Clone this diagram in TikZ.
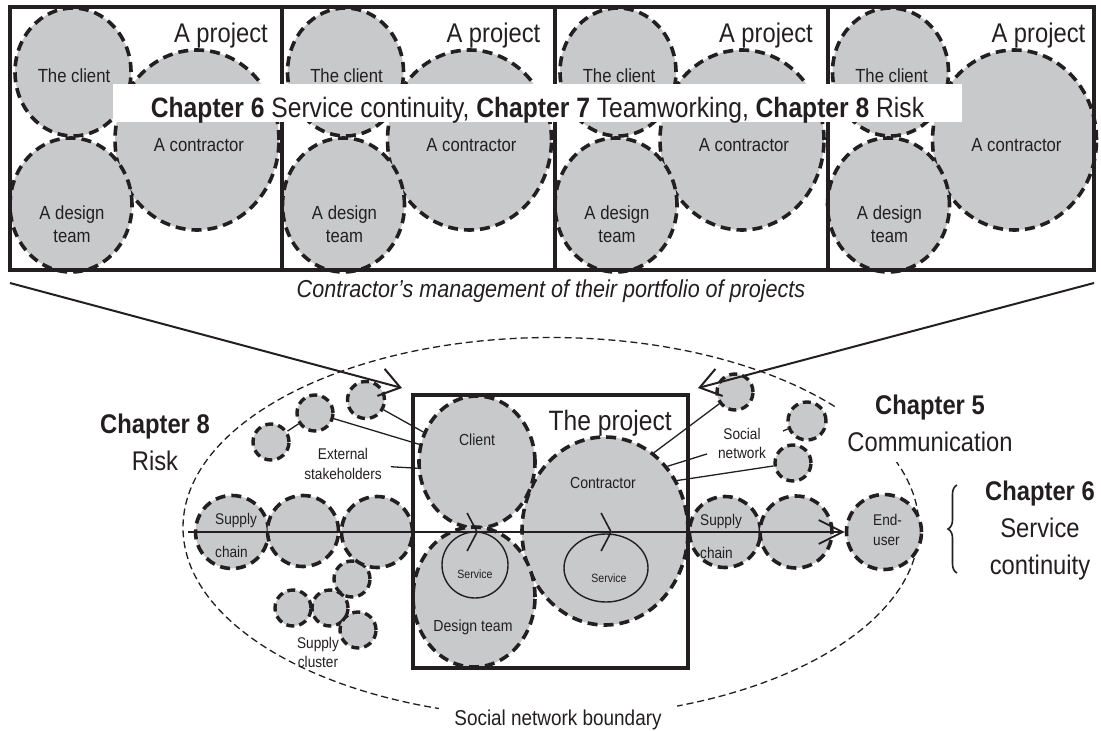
\documentclass[tikz,border=0pt]{standalone}
\usepackage{fontspec}
\setmainfont{Liberation Sans}[FakeStretch=0.88]
\usetikzlibrary{shapes.geometric, arrows.meta, decorations.pathreplacing}

\definecolor{blobfill}{RGB}{200,201,203}
\definecolor{ink}{RGB}{35,31,32}

\newcommand{\setfs}[2]{\fontsize{#1}{#2}\selectfont}

\begin{document}
\begin{tikzpicture}[x=1pt, y=-1pt,
  blob/.style={ellipse, fill=blobfill, draw=ink, line width=3.6pt,
    dash pattern=on 10pt off 6pt, inner sep=0pt},
  smallblob/.style={blob, line width=3.4pt, dash pattern=on 8pt off 5pt},
  txt/.style={text=ink, align=center, inner sep=0pt},
  link/.style={draw=ink, line width=1.3pt},
  frame/.style={draw=ink, line width=4.5pt},
  svcring/.style={ellipse, draw=ink, line width=1.4pt, inner sep=0pt},
  flow/.style={draw=ink, line width=1.8pt},
  bigarrow/.style={draw=ink, line width=2pt,
    -{Straight Barb[length=20pt,width=28pt,line width=2pt]}},
  chaplabel/.style={txt, font=\setfs{27}{37}},
]
% canvas
\fill[white] (0,0) rectangle (1101,731);
\useasboundingbox (0,0) rectangle (1101,731);

% ---------- portfolio of four projects ----------
\foreach \i/\o in {1/0,2/272.5,3/545,4/817.5}{
  \node[blob, minimum width=164, minimum height=180] (ctr\i) at (197+\o,140) {};
  \node[blob, minimum width=116, minimum height=128] (cli\i) at (73+\o,72) {};
  \node[blob, minimum width=122, minimum height=134] (dsg\i) at (71+\o,205) {};
  \node[txt, font=\setfs{27}{30}, anchor=base east] (ttl\i) at (268+\o,42) {A project};
  \node[txt, font=\setfs{19}{23}] (clit\i) at (74+\o,76) {The client};
  \node[txt, font=\setfs{19}{23}] (ctrt\i) at (199+\o,145) {A contractor};
  \node[txt, font=\setfs{19}{23}] (dsgt\i) at (72+\o,224) {A design\\team};
}
\draw[frame] (10,7) rectangle (1094,270);
\draw[frame] (282,7) -- (282,270);
\draw[frame] (555,7) -- (555,270);
\draw[frame] (828,7) -- (828,270);

% chapter banner across the portfolio
\node[fill=white, minimum width=849, minimum height=38, inner sep=0pt] (banner) at (537.5,103) {};
\node[txt, font=\setfs{28}{32}, anchor=base] (bannertext) at (537.5,117)
  {\textbf{Chapter 6} Service continuity, \textbf{Chapter 7} Teamworking, \textbf{Chapter 8} Risk};

\node[txt, font=\setfs{24.5}{28}\itshape] (caption) at (551,291)
  {Contractor’s management of their portfolio of projects};

% ---------- the project within its social network ----------
\node[ellipse, draw=ink, line width=1.3pt, dash pattern=on 7pt off 4pt,
  minimum width=736, minimum height=380, inner sep=0pt] (bnd) at (551,527.5) {};

% external stakeholders
\node[smallblob, minimum size=37] (s1) at (366,400) {};
\node[smallblob, minimum size=36] (s2) at (315,413) {};
\node[smallblob, minimum size=36] (s3) at (271,442) {};

% supply cluster
\node[smallblob, minimum size=36] (c1) at (352,579) {};
\node[smallblob, minimum size=36] (c2) at (293,608) {};
\node[smallblob, minimum size=36] (c3) at (330,608) {};
\node[smallblob, minimum size=36] (c4) at (358,630) {};

% social network
\node[smallblob, minimum size=36] (r1) at (735,392) {};
\node[smallblob, minimum size=38] (r2) at (807,421) {};
\node[smallblob, minimum size=36] (r3) at (793,463) {};

% supply chains and end-user
\node[blob, minimum size=73] (scA) at (232,532) {};
\node[blob, minimum size=71] (scB) at (303,531) {};
\node[blob, minimum size=71] (scC) at (377,532) {};
\node[blob, minimum size=71] (scD) at (725,532) {};
\node[blob, minimum size=72] (scE) at (796,532) {};
\node[blob, minimum size=75] (eu) at (884,532) {};

% the project team
\node[blob, minimum width=166, minimum height=188] (con) at (605,531) {};
\node[blob, minimum width=116, minimum height=132] (cl) at (477,462) {};
\node[blob, minimum width=122, minimum height=140] (dt) at (474,597) {};

% labels placed before links
\node[txt, font=\setfs{15.5}{20}, inner sep=9pt] (ext) at (343,464) {External\\stakeholders};
\node[txt, font=\setfs{15.5}{19}, inner sep=11pt] (soc) at (742,443) {Social\\network};
\node[txt, font=\setfs{15.5}{19}] (clu) at (318,652) {Supply\\cluster};

% links
\draw[link] (s3) -- (s2);
\draw[link] (s1) -- (cl);
\draw[link] (s2) -- (cl.163);
\draw[link] (ext) -- (cl.186);
\draw[link] (con.58) -- (r1);
\draw[link] (soc) -- (con.46);
\draw[link] (r3) -- (con.35);
\coordinate (r2stub) at (783,431);
\draw[link] (r2stub) -- (r2);

% project frame
\node[frame, minimum width=275, minimum height=273, inner sep=0pt] (prj) at (550.5,531.5) {};
\node[txt, font=\setfs{28}{32}, anchor=base east] (prjt) at (672,430) {The project};

% services
\node[svcring, minimum width=66, minimum height=66] (svc1) at (475,565) {};
\node[svcring, minimum width=84, minimum height=68] (svc2) at (606,568) {};

% service flow to the end-user
\coordinate (f0) at (188,532);
\coordinate (f1) at (478,532);
\coordinate (f2) at (612,532);
\draw[flow, -{Straight Barb[length=10pt,width=38pt,line width=1.6pt]}] (f0) -- (f1);
\draw[flow, -{Straight Barb[length=10pt,width=38pt,line width=1.6pt]}] (f1) -- (f2);
\draw[flow, -{Straight Barb[length=24pt,width=24pt,line width=1.8pt]}] (f2) -- (eu.west);

% portfolio zoom arrows
\coordinate (zl0) at (10,283);
\coordinate (zl1) at (402,388);
\coordinate (zr0) at (1094,283);
\coordinate (zr1) at (698,388);
\draw[bigarrow] (zl0) -- (zl1);
\draw[bigarrow] (zr0) -- (zr1);

% labels inside circles
\node[txt, font=\setfs{16}{20}] (clt) at (477,440) {Client};
\node[txt, font=\setfs{16}{20}] (cont) at (603,483) {Contractor};
\node[txt, font=\setfs{16}{20}] (dtt) at (473,627) {Design team};
\node[txt, font=\setfs{12}{14}] (svc1t) at (475,574) {Service};
\node[txt, font=\setfs{12}{14}] (svc2t) at (609,578) {Service};
\node[txt, font=\setfs{15.5}{19}, anchor=base west] (scA1) at (215,524) {Supply};
\node[txt, font=\setfs{15.5}{19}, anchor=base west] (scA2) at (215,557) {chain};
\node[txt, font=\setfs{15.5}{19}, anchor=base west] (scD1) at (700,525) {Supply};
\node[txt, font=\setfs{15.5}{19}, anchor=base west] (scD2) at (700,558) {chain};
\node[txt, font=\setfs{15.5}{19}, anchor=base west] (eu1) at (873,525) {End-};
\node[txt, font=\setfs{15.5}{19}, anchor=base west] (eu2) at (873,545) {user};

% chapter labels
\node[chaplabel] (ch8) at (155,442) {\textbf{Chapter 8}\\Risk};
\node[chaplabel, fill=white, inner sep=10pt] (ch5) at (930,423.5) {\textbf{Chapter 5}\\Communication};
\node[chaplabel] (ch6) at (1040,531) {\textbf{Chapter 6}\\Service\\continuity};
\draw[ink, line width=1.6pt, decorate, decoration={brace, amplitude=9pt}] (957,573) -- (957,485);

\node[txt, font=\setfs{21.5}{25}, fill=white, inner xsep=15pt, inner ysep=4pt, anchor=base] (bndt) at (558,725) {Social network boundary};
\end{tikzpicture}
\end{document}
